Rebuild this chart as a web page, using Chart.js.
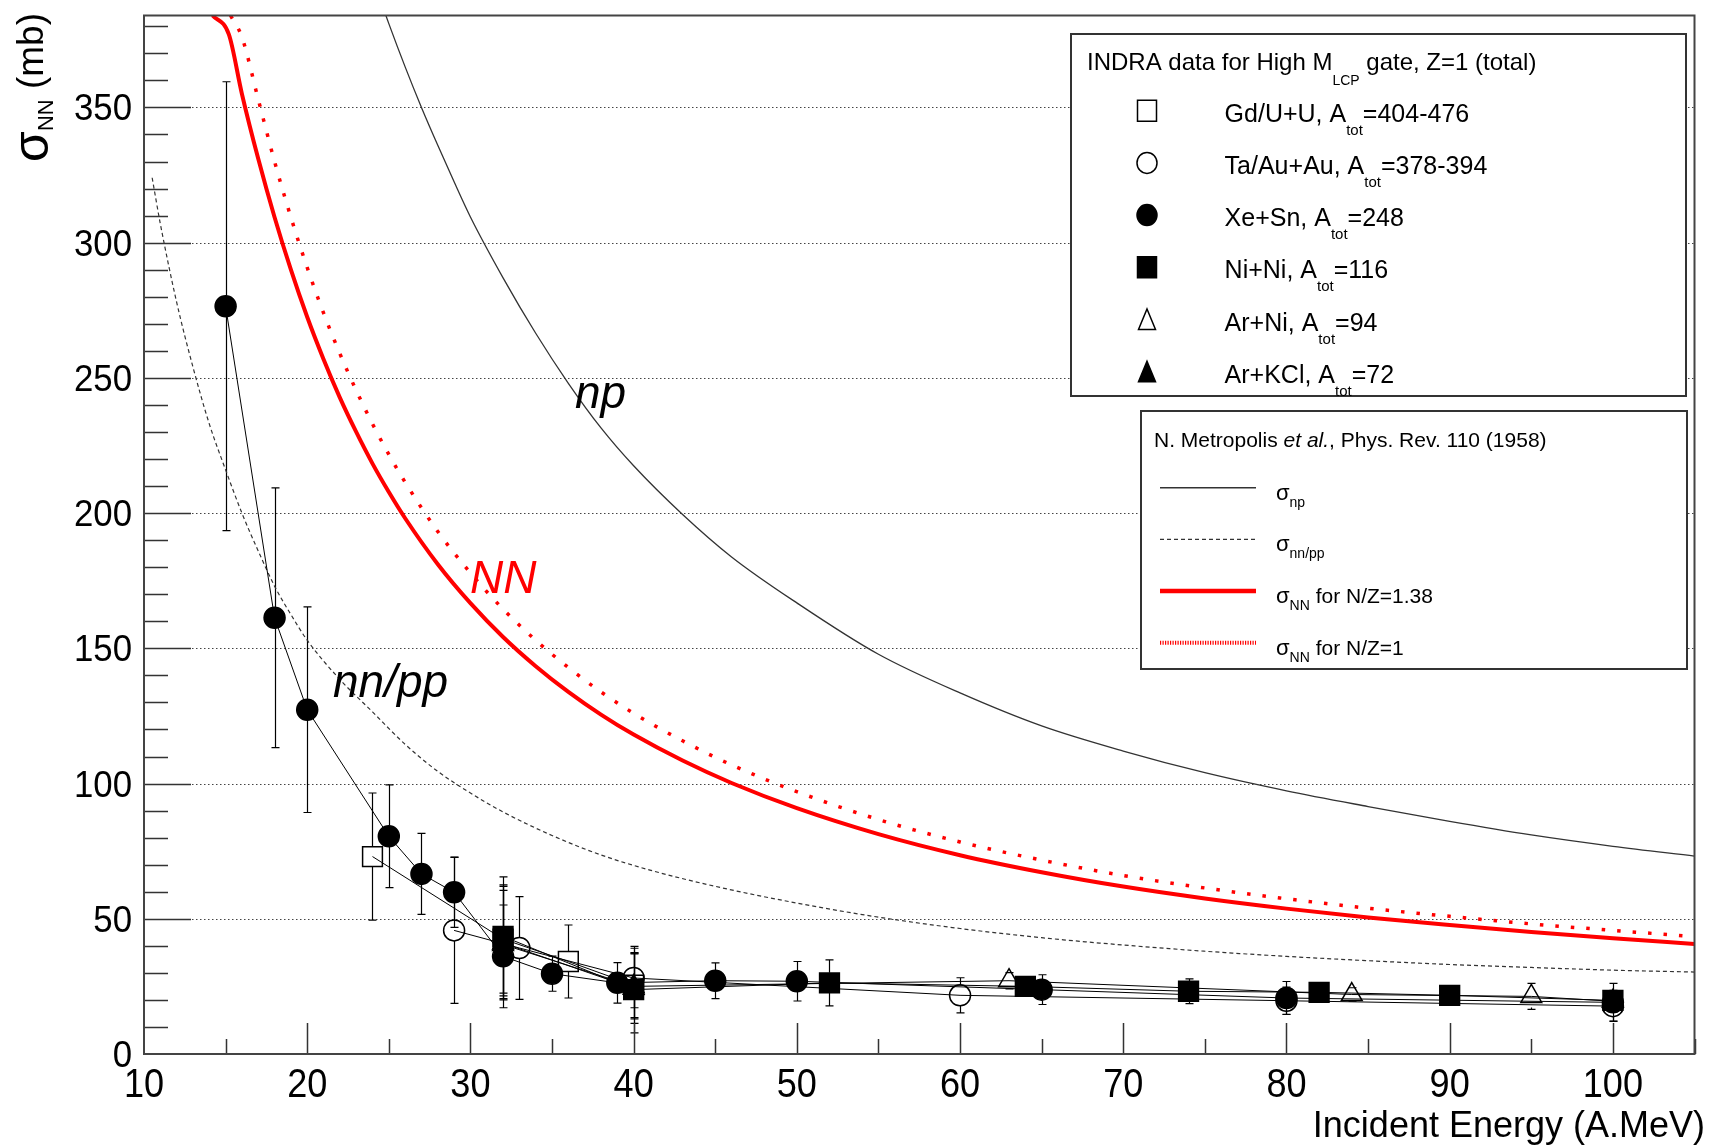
<!DOCTYPE html>
<html>
<head>
<meta charset="utf-8">
<script src="https://cdn.jsdelivr.net/npm/chart.js@4.4.1/dist/chart.umd.min.js"></script>
<style>
  html, body { margin: 0; padding: 0; background: #fff; }
</style>
</head>
<body>
<canvas id="c" width="1710" height="1146"></canvas>
<script>
const FONT = '"Liberation Sans", Arial, Helvetica, sans-serif';

// axis ticks
const X_TICKS = [10, 20, 30, 40, 50, 60, 70, 80, 90, 100];
const Y_TICKS = [0, 50, 100, 150, 200, 250, 300, 350];

// Metropolis et al. curves
const NP_E = [24, 25, 26, 27, 28, 29, 30, 32, 34, 36, 38, 40, 43, 46, 50, 55, 60, 65, 70, 75, 80, 85, 90, 95, 100, 105];
const NP_SIG = [398, 381, 365, 350, 336, 322.5, 309.5, 287, 266.5, 248, 231.5, 217.5, 199.5, 183.8, 166.8, 147.8, 133.5, 121.3, 112, 104, 97.3, 91.5, 86, 81, 76.8, 73.2];

const NNPP_E = [10.5, 11, 12, 13, 14, 15, 16, 17, 18, 19, 20, 22, 24, 26, 28, 30, 32, 35, 38, 41, 45, 50, 55, 60, 65, 70, 75, 80, 85, 90, 95, 100, 105];
const NNPP_SIG = [324, 307, 278, 254, 233, 216, 200, 186, 173, 162.5, 153, 138.5, 126.5, 114.5, 104.5, 96.5, 89.5, 80.8, 73.6, 68, 62, 55.8, 50.6, 46.4, 43, 40.3, 38, 36.1, 34.5, 33.1, 32, 31, 30.3];

const NN138_E = [14.2, 15.2, 16, 17, 18, 19, 20, 21, 22, 23, 24, 25, 26, 28, 30, 32, 34, 36, 38, 40, 43, 46, 50, 55, 60, 65, 70, 75, 80, 85, 90, 95, 100, 105];
const NN138_SIG = [384, 377, 355, 331, 309.4, 290, 272.5, 256.9, 242.7, 230, 218.3, 207.8, 198.1, 181.1, 166.7, 154.2, 143.4, 133.9, 125.5, 118.1, 108.5, 100.2, 90.9, 81.3, 73.5, 67.2, 61.9, 57.5, 53.75, 50.5, 47.7, 45.1, 42.8, 40.7];

const NN1_E = [15.3, 16, 17, 18, 19, 20, 21, 22, 23, 24, 25, 26, 28, 30, 32, 34, 36, 38, 40, 43, 46, 50, 55, 60, 65, 70, 75, 80, 85, 90, 95, 100, 105];
const NN1_SIG = [384, 376, 353, 330, 309.4, 290.8, 274, 259, 245.4, 233, 221.7, 211.4, 193.2, 177.9, 164.5, 153, 142.9, 133.9, 126, 115.8, 106.9, 97, 86.7, 78.4, 71.7, 66, 61.4, 57.4, 53.9, 50.9, 48.1, 45.7, 43.4];

// INDRA data (value, error half-length)
const GDU_E = [24, 32, 36, 40];
const GDU_SIG = [73, 42.5, 34.2, 25.5];
const GDU_ERR = [23.5, 20, 13.5, 12];

const TAAU_E = [29, 33, 40, 60, 80, 100];
const TAAU_SIG = [45.7, 39.2, 28.1, 21.7, 19.7, 17.7];
const TAAU_ERR = [27, 19, 11, 6.5, 5, 5.5];

const XESN_E = [15, 18, 20, 25, 27, 29, 32, 35, 39, 45, 50, 65, 80, 100];
const XESN_SIG = [276.5, 161.3, 127.3, 80.5, 66.6, 59.8, 36.1, 29.7, 26.3, 27.1, 26.9, 23.8, 20.7, 19.1];
const XESN_ERR = [83, 48, 38, 19, 15, 13, 19, 6.5, 7.5, 6.6, 7.3, 5.5, 6.1, 7];

const NINI_E = [32, 40, 52, 64, 74, 82, 90, 100];
const NINI_SIG = [43.5, 23.8, 26.3, 25, 23.2, 22.8, 21.7, 19.8];
const NINI_ERR = [22, 16, 8.5, 3.5, 4.6, 2.5, 2.5, 3];

const ARNI_E = [32, 40, 63, 84, 95, 100];
const ARNI_SIG = [40.5, 25, 27.1, 22, 21.3, 19.5];
const ARNI_ERR = [20, 12, 3, 2.5, 4.8, 4];

const ARKCL_E = [32, 40];
const ARKCL_SIG = [41, 24.3];
const ARKCL_ERR = [21, 13];

// legend texts
const LEG1_TITLE = ['INDRA data for High M', 'LCP', ' gate, Z=1 (total)'];
const LEG1_NAMES = ['Gd/U+U, A', 'Ta/Au+Au, A', 'Xe+Sn, A', 'Ni+Ni, A', 'Ar+Ni, A', 'Ar+KCl, A'];
const LEG1_ATOT = ['=404-476', '=378-394', '=248', '=116', '=94', '=72'];
const LEG1_MARK = [['rect', false], ['circle', false], ['circle', true], ['rect', true], ['triangle', false], ['triangle', true]];
const LEG2_SUB = ['np', 'nn/pp', 'NN', 'NN'];
const LEG2_TAIL = ['', '', ' for N/Z=1.38', ' for N/Z=1'];

const pts = (xs, ys) => xs.map((v, i) => ({ x: v, y: ys[i] }));

function curve(label, xs, ys, color, width, dash) {
    return {
        label, data: pts(xs, ys), showLine: true,
        borderColor: color, borderWidth: width, borderDash: dash || [],
        pointRadius: 0, cubicInterpolationMode: 'monotone', fill: false, clip: 0,
    };
}

function series(label, xs, ys, style, filled, radius) {
    return {
        label, data: pts(xs, ys), showLine: true,
        borderColor: '#000', borderWidth: 1,
        pointStyle: style, pointRadius: radius,
        pointBackgroundColor: filled ? '#000' : 'rgba(0,0,0,0)',
        pointBorderColor: '#000', pointBorderWidth: 1.5, clip: 0,
    };
}

const ERRORS = [
    { e: NINI_E, s: NINI_SIG, d: NINI_ERR, r: 10 },
    { e: XESN_E, s: XESN_SIG, d: XESN_ERR, r: 10.5 },
    { e: TAAU_E, s: TAAU_SIG, d: TAAU_ERR, r: 10.5 },
    { e: GDU_E, s: GDU_SIG, d: GDU_ERR, r: 10 },
    { e: ARNI_E, s: ARNI_SIG, d: ARNI_ERR, r: 11 },
    { e: ARKCL_E, s: ARKCL_SIG, d: ARKCL_ERR, r: 11 },
];

function rich(ctx, x, y, parts) {
    let cx = x;
    for (const [t, size, dy, style] of parts) {
        ctx.font = `${style || ''} ${size}px ${FONT}`;
        ctx.fillText(t, cx, y + (dy || 0));
        cx += ctx.measureText(t).width;
    }
    return cx - x;
}

function condensed(ctx, str, x, y, sx, align) {
    ctx.save();
    ctx.translate(x, y);
    ctx.scale(sx, 1);
    ctx.textAlign = align;
    ctx.fillText(str, 0, 0);
    ctx.restore();
}

function marker(ctx, style, filled, x, y, r) {
    ctx.beginPath();
    if (style === 'circle') {
        ctx.ellipse(x, y, r, r * 1.05, 0, 0, Math.PI * 2);
    } else if (style === 'rect') {
        ctx.rect(x - r * 0.95, y - r * 1.05, r * 1.9, r * 2.1);
    } else {
        ctx.moveTo(x, y - r * 1.05);
        ctx.lineTo(x + r * 0.85, y + r * 1.0);
        ctx.lineTo(x - r * 0.85, y + r * 1.0);
        ctx.closePath();
    }
    ctx.lineWidth = 1.5;
    ctx.strokeStyle = '#000';
    if (filled) { ctx.fillStyle = '#000'; ctx.fill(); }
    ctx.stroke();
}

const rootFrame = {
    id: 'rootFrame',
    beforeDatasetsDraw(chart) {
        const { ctx, chartArea: a, scales: { x, y } } = chart;
        ctx.save();
        // dotted grid on major y ticks
        ctx.strokeStyle = '#444';
        ctx.lineWidth = 1;
        ctx.setLineDash([1.5, 2.5]);
        Y_TICKS.forEach(v => {
            if (v === 0) return;
            const py = Math.round(y.getPixelForValue(v)) + 0.5;
            ctx.beginPath();
            ctx.moveTo(a.left, py);
            ctx.lineTo(a.right, py);
            ctx.stroke();
        });
        ctx.setLineDash([]);

        // error bars, stopping at the marker edge
        ctx.strokeStyle = '#000';
        ctx.lineWidth = 1.2;
        ERRORS.forEach(({ e, s, d, r }) => {
            e.forEach((ev, i) => {
                const px = Math.round(x.getPixelForValue(ev)) + 0.5;
                const pc = y.getPixelForValue(s[i]);
                const pt = y.getPixelForValue(s[i] + d[i]);
                const pb = y.getPixelForValue(s[i] - d[i]);
                ctx.beginPath();
                if (pt < pc - r) { ctx.moveTo(px, pt); ctx.lineTo(px, pc - r); }
                if (pb > pc + r) { ctx.moveTo(px, pc + r); ctx.lineTo(px, pb); }
                ctx.moveTo(px - 4, pt); ctx.lineTo(px + 4, pt);
                ctx.moveTo(px - 4, pb); ctx.lineTo(px + 4, pb);
                ctx.stroke();
            });
        });
        ctx.restore();
    },
    afterDatasetsDraw(chart) {
        const { ctx, chartArea: a, scales: { x, y } } = chart;
        ctx.save();

        // ticks inside the frame
        ctx.strokeStyle = '#333';
        ctx.lineWidth = 1.5;
        ctx.beginPath();
        for (let v = 10; v <= 380; v += 10) {
            const py = Math.round(y.getPixelForValue(v)) + 0.5;
            const len = v % 50 === 0 ? 47 : 24;
            ctx.moveTo(a.left, py);
            ctx.lineTo(a.left + len, py);
        }
        for (let v = 15; v <= 105; v += 5) {
            const px = Math.round(x.getPixelForValue(v)) + 0.5;
            const len = v % 10 === 0 ? 31 : 15;
            ctx.moveTo(px, a.bottom);
            ctx.lineTo(px, a.bottom - len);
        }
        ctx.stroke();

        // frame
        ctx.strokeStyle = '#444';
        ctx.lineWidth = 2;
        ctx.strokeRect(a.left, a.top, a.right - a.left, a.bottom - a.top);

        // tick labels
        ctx.fillStyle = '#000';
        ctx.font = `37px ${FONT}`;
        Y_TICKS.forEach(v => condensed(ctx, String(v), 132, y.getPixelForValue(v) + 13, 0.94, 'right'));
        ctx.font = `41px ${FONT}`;
        X_TICKS.forEach(v => condensed(ctx, String(v), x.getPixelForValue(v), 1097, 0.88, 'center'));

        // axis titles
        ctx.textAlign = 'right';
        ctx.font = `36px ${FONT}`;
        ctx.fillText('Incident Energy (A.MeV)', 1705, 1137);
        ctx.textAlign = 'left';
        const yParts = [['\u03c3', 50, 5], ['NN', 22, 10], [' (mb)', 37, 0]];
        let w = 0;
        yParts.forEach(([t, size]) => { ctx.font = `${size}px ${FONT}`; w += ctx.measureText(t).width; });
        ctx.save();
        ctx.translate(43, 13 + w);
        ctx.rotate(-Math.PI / 2);
        rich(ctx, 0, 0, yParts);
        ctx.restore();

        // curve labels
        ctx.font = `italic 46px ${FONT}`;
        ctx.fillStyle = '#000';
        ctx.fillText('np', 575, 408);
        ctx.fillText('nn/pp', 333, 697);
        ctx.fillStyle = '#ff0000';
        ctx.fillText('NN', 470, 593);

        // legend 1: INDRA data
        ctx.fillStyle = '#fff';
        ctx.fillRect(1071, 34, 615, 362);
        ctx.strokeStyle = '#333';
        ctx.lineWidth = 2;
        ctx.strokeRect(1071, 34, 615, 362);
        ctx.fillStyle = '#000';
        rich(ctx, 1087, 70, [[LEG1_TITLE[0], 24, 0], [LEG1_TITLE[1], 14, 15], [LEG1_TITLE[2], 24, 0]]);
        LEG1_NAMES.forEach((name, k) => {
            const ry = 110.7 + 52.2 * k;
            const [style, filled] = LEG1_MARK[k];
            marker(ctx, style, filled, 1147, ry, 10);
            ctx.fillStyle = '#000';
            rich(ctx, 1224.6, ry + 11, [[name, 25, 0], ['tot', 15, 13], [LEG1_ATOT[k], 25, 0]]);
        });

        // legend 2: Metropolis curves
        ctx.fillStyle = '#fff';
        ctx.fillRect(1141, 411, 546, 258);
        ctx.strokeStyle = '#333';
        ctx.lineWidth = 2;
        ctx.strokeRect(1141, 411, 546, 258);
        ctx.fillStyle = '#000';
        rich(ctx, 1154, 447, [['N. Metropolis ', 21, 0], ['et al.', 21, 0, 'italic'], [', Phys. Rev. 110 (1958)', 21, 0]]);
        const lineStyles = [['#333', 1.5, []], ['#333', 1.2, [4, 3]], ['#ff0000', 4.5, []], ['#ff0000', 4, [1.2, 1.3]]];
        LEG2_SUB.forEach((sub, k) => {
            const ry = 487.7 + 51.7 * k;
            const [col, lw, dash] = lineStyles[k];
            ctx.strokeStyle = col;
            ctx.lineWidth = lw;
            ctx.setLineDash(dash);
            ctx.beginPath();
            ctx.moveTo(1160, ry);
            ctx.lineTo(1256, ry);
            ctx.stroke();
            ctx.setLineDash([]);
            ctx.fillStyle = '#000';
            rich(ctx, 1276, ry + 12, [['\u03c3', 22, 0], [sub, 14, 7], [LEG2_TAIL[k], 21, 0]]);
        });

        ctx.restore();
    },
};

new Chart(document.getElementById('c'), {
    type: 'scatter',
    data: {
        datasets: [
            series('Ni+Ni', NINI_E, NINI_SIG, 'rect', true, 14),
            series('Xe+Sn', XESN_E, XESN_SIG, 'circle', true, 10.5),
            series('Ta/Au+Au', TAAU_E, TAAU_SIG, 'circle', false, 10.5),
            series('Gd/U+U', GDU_E, GDU_SIG, 'rect', false, 14),
            series('Ar+Ni', ARNI_E, ARNI_SIG, 'triangle', false, 12),
            series('Ar+KCl', ARKCL_E, ARKCL_SIG, 'triangle', true, 12),
            curve('np', NP_E, NP_SIG, '#333', 1.3),
            curve('nn/pp', NNPP_E, NNPP_SIG, '#333', 1.2, [4, 3]),
            curve('NN N/Z=1.38', NN138_E, NN138_SIG, '#ff0000', 4),
            curve('NN N/Z=1', NN1_E, NN1_SIG, '#ff0000', 3.5, [3.5, 12]),
        ],
    },
    options: {
        responsive: false,
        animation: false,
        devicePixelRatio: 1,
        events: [],
        layout: { padding: { left: 144, right: 5, top: 13, bottom: 92 } },
        plugins: { legend: { display: false }, tooltip: { enabled: false } },
        scales: {
            x: { type: 'linear', min: 10, max: 105, display: false },
            y: { type: 'linear', min: 0, max: 384, display: false },
        },
    },
    plugins: [rootFrame],
});
</script>
</body>
</html>
